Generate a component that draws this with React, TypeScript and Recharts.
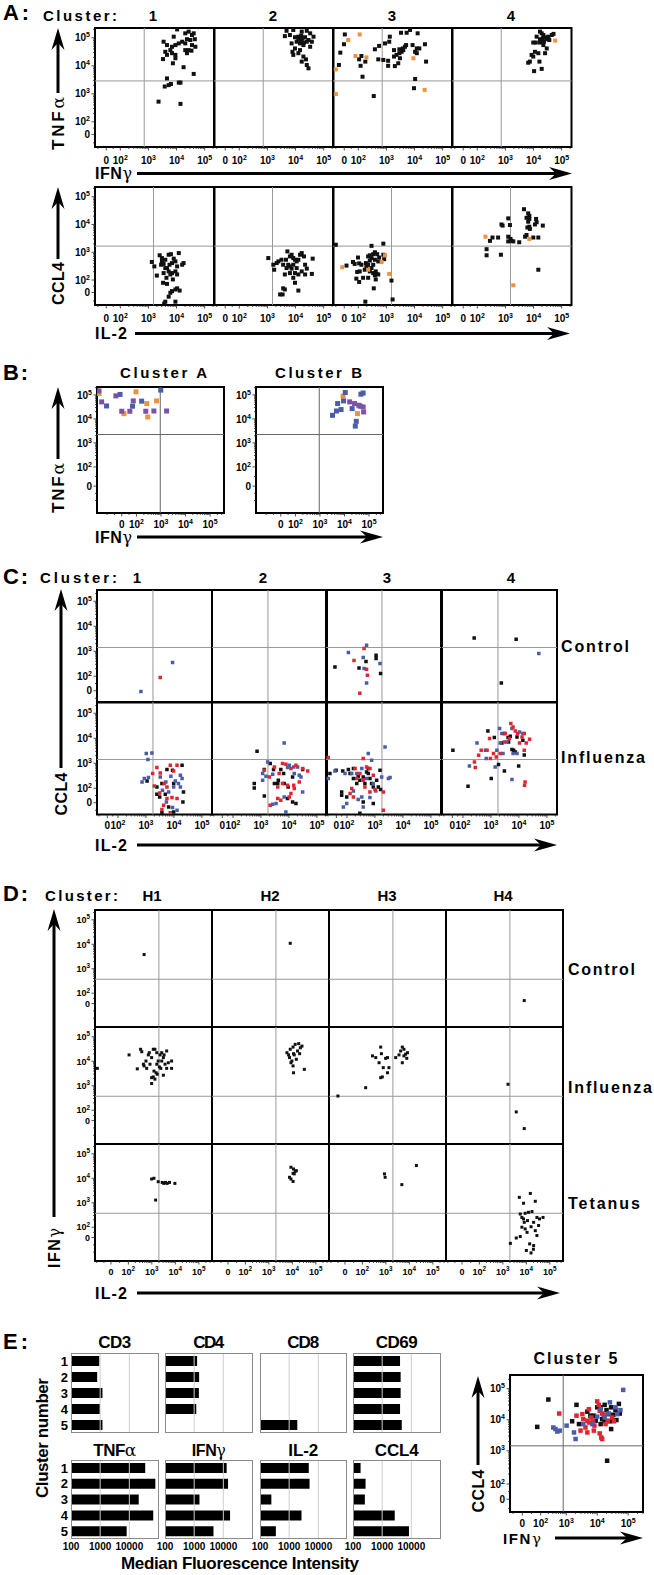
import React from 'react'
import { ScatterChart, Scatter, XAxis, YAxis, ReferenceLine, ReferenceArea, BarChart, Bar } from 'recharts'

type Pt = [number, number]

// values are in display decades of the flow plots (biexponential axes)

// A: TNFa vs IFNg
const A_TOP_1: Pt[] = [[4.02,5.30],[4.31,5.16],[4.55,5.10],[4.43,5.22],[4.61,5.16],[3.90,5.04],[3.54,4.86],[3.66,4.74],[3.84,4.68],[3.96,4.74],[4.31,4.80],[4.49,4.92],[4.65,4.95],[4.20,4.86],[4.08,4.80],[4.55,4.74],[3.60,4.50],[3.78,4.56],[4.31,4.56],[4.37,4.45],[4.67,4.68],[3.84,4.45],[3.96,4.39],[3.66,4.39],[3.52,4.24],[3.96,4.27],[3.87,4.09],[4.25,3.95],[4.61,3.71],[3.66,3.55],[3.72,3.31],[3.80,3.35],[3.58,3.26],[4.14,3.40],[4.08,3.40],[3.36,2.72],[4.14,2.64],[4.43,4.56],[4.53,4.54],[4.37,4.95]]
const A_TOP_2: Pt[] = [[3.68,5.25],[3.92,5.28],[4.22,5.22],[4.40,5.25],[3.62,5.06],[3.80,5.10],[4.10,5.04],[4.22,4.95],[4.34,5.02],[4.46,4.92],[4.58,4.86],[4.04,4.86],[3.86,4.80],[4.16,4.80],[4.28,4.74],[4.52,4.68],[3.98,4.62],[4.16,4.56],[3.89,4.50],[4.10,4.45],[3.92,4.39],[4.28,4.33],[4.37,4.23],[4.22,4.15],[4.40,4.03],[4.46,3.91],[4.30,4.83],[4.40,4.86],[4.10,4.95],[3.98,5.02],[4.52,5.16],[4.64,5.04],[4.15,5.00],[4.20,5.08],[4.25,5.00],[4.18,4.90]]
const A_TOP_3: Pt[] = [[1.52,5.12],[1.49,4.77],[1.36,4.47],[1.31,4.03],[2.15,3.61],[2.08,4.00],[2.03,4.23],[2.11,4.35],[2.25,4.15],[2.55,2.92],[2.59,4.59],[2.74,4.71],[2.95,4.80],[3.10,4.86],[3.12,5.04],[3.52,5.18],[3.72,5.18],[3.84,5.28],[4.11,5.16],[2.71,4.23],[2.89,4.21],[3.06,4.18],[3.06,4.00],[3.30,3.99],[3.27,4.33],[3.27,4.56],[3.46,4.59],[3.54,4.50],[3.58,4.62],[3.70,4.74],[3.42,4.09],[3.48,4.27],[3.46,4.45],[3.60,4.56],[3.93,4.74],[4.08,4.62],[4.17,4.62],[4.02,4.50],[4.08,4.45],[4.37,4.77],[4.41,4.15],[4.02,3.53],[3.98,3.20],[3.66,4.68],[3.36,4.39]]
const A_TOP_3_OR: Pt[] = [[1.20,3.87],[1.20,2.99],[1.64,4.92],[2.05,5.12],[1.90,4.35],[2.29,4.30],[3.96,4.27],[4.36,3.14]]
const A_TOP_4: Pt[] = [[4.23,5.22],[4.29,5.16],[4.35,5.10],[4.41,5.02],[4.47,4.95],[4.33,4.98],[4.23,4.95],[4.53,5.04],[4.65,5.10],[4.71,5.14],[4.11,5.04],[3.99,4.83],[4.08,4.83],[4.23,4.83],[4.37,4.86],[4.56,4.92],[4.35,4.74],[4.47,4.62],[4.41,4.45],[4.05,4.50],[3.93,4.39],[4.17,4.45],[3.99,4.33],[3.87,4.15],[3.81,4.11],[4.21,4.15],[4.29,3.89],[4.02,3.81]]
const A_TOP_4_OR: Pt[] = [[4.77,4.90]]

// A: CCL4 vs IL-2
const A_BOT_1: Pt[] = [[3.12,2.65],[3.21,2.49],[3.40,2.89],[3.48,2.79],[3.60,2.73],[3.72,2.91],[3.80,2.93],[3.90,2.77],[3.84,2.61],[3.75,2.55],[3.66,2.43],[3.54,2.58],[3.45,2.55],[3.30,2.16],[3.54,2.25],[3.72,2.31],[3.84,2.25],[3.96,2.31],[4.02,2.49],[4.20,2.55],[4.25,2.61],[4.08,2.97],[3.96,2.67],[3.60,2.43],[3.52,1.90],[3.66,1.86],[3.64,2.08],[3.84,1.60],[3.96,1.66],[4.02,1.70],[4.11,1.62],[3.72,1.40],[3.60,1.22],[3.56,1.15],[3.96,1.22],[3.78,1.54],[3.87,2.02],[3.78,2.20],[3.48,2.67],[4.02,2.20]]
const A_BOT_2: Pt[] = [[3.03,2.79],[3.21,2.55],[3.24,2.37],[3.33,2.61],[3.39,2.67],[3.50,2.73],[3.56,2.55],[3.66,2.73],[3.71,3.03],[3.80,2.85],[3.86,2.91],[3.92,2.79],[3.98,2.73],[4.04,2.67],[4.10,2.73],[4.16,2.91],[4.22,2.97],[4.30,2.85],[4.61,2.77],[3.92,2.55],[4.04,2.43],[3.80,2.49],[3.68,2.43],[3.62,2.20],[3.80,2.25],[3.98,2.25],[3.92,2.08],[3.98,1.90],[4.10,2.20],[4.22,2.31],[4.34,2.20],[4.58,2.22],[3.56,1.70],[3.62,1.66],[3.45,1.48],[3.54,1.48],[4.10,1.62],[3.74,2.55],[3.86,2.41],[4.34,2.55],[4.40,2.41]]
const A_BOT_3: Pt[] = [[1.20,3.27],[1.58,2.52],[1.81,2.65],[1.87,2.58],[1.99,2.81],[2.03,2.60],[1.96,2.29],[2.05,2.31],[1.93,2.05],[2.03,1.93],[2.17,2.08],[2.23,2.37],[2.29,2.43],[2.27,2.61],[2.35,2.55],[2.35,2.85],[2.41,2.89],[2.47,2.79],[2.53,2.93],[2.59,3.00],[2.67,2.93],[2.47,3.23],[2.59,2.73],[2.71,2.67],[2.74,2.81],[2.89,3.31],[2.92,2.75],[2.89,2.91],[2.41,2.31],[2.53,2.25],[2.59,2.17],[2.65,2.22],[2.62,2.02],[2.71,2.20],[2.55,1.70],[2.35,2.08],[2.29,2.55],[2.53,2.55],[2.47,2.43],[2.11,2.55],[3.18,1.98],[3.22,1.30],[2.25,1.22],[2.62,2.31],[2.41,2.70]]
const A_BOT_3_OR: Pt[] = [[1.43,2.46],[2.83,2.65],[2.95,2.89],[3.10,2.22],[2.35,2.37]]
const A_BOT_4: Pt[] = [[3.66,4.55],[3.81,4.40],[3.85,4.31],[3.75,4.24],[3.85,4.20],[3.81,4.10],[4.09,4.20],[4.11,4.08],[4.33,3.96],[4.05,4.00],[3.85,3.92],[3.78,3.89],[3.87,3.84],[3.75,3.62],[3.99,3.53],[4.17,3.53],[3.70,3.56],[3.10,4.22],[3.16,3.98],[2.86,4.00],[2.90,3.96],[3.10,3.56],[3.18,3.48],[3.22,3.41],[3.28,3.39],[3.10,3.39],[3.49,3.36],[2.74,3.53],[2.54,3.53],[2.45,3.41],[2.33,3.11],[2.33,2.89],[2.84,2.91],[4.17,2.37]]
const A_BOT_4_OR: Pt[] = [[2.29,3.56],[3.85,3.48],[3.28,1.81]]

// B: TNFa vs IFNg, donors in three colours
const B_A_PURPLE: Pt[] = [[0.47,5.17],[0.58,4.71],[1.16,4.96],[1.40,4.32],[1.73,4.32],[1.87,4.75],[2.38,4.32],[2.71,4.33],[3.23,4.33]]
const B_A_BLUE: Pt[] = [[0.78,4.54],[1.33,5.02],[1.84,4.53],[2.21,4.74],[2.99,5.20]]
const B_A_ORANGE: Pt[] = [[0.47,5.06],[1.49,4.22],[1.98,5.13],[2.42,4.64],[2.46,4.08],[2.82,4.75]]
const B_B_BLUE: Pt[] = [[3.51,4.15],[3.72,4.64],[3.67,4.33],[3.86,4.39],[4.03,5.10],[3.96,4.75],[4.31,4.43],[4.48,3.90],[4.44,3.70],[4.64,4.53],[4.67,5.03],[4.76,5.08]]
const B_B_PURPLE: Pt[] = [[4.21,4.71],[4.41,4.64],[4.58,4.57],[4.76,4.50],[4.78,4.29]]
const B_B_ORANGE: Pt[] = [[3.94,4.95],[4.53,4.22]]

// C: CCL4 vs IL-2, control row
const C_CTRL_1_BLUE: Pt[] = [[2.82,1.39],[3.95,2.55]]
const C_CTRL_1_RED: Pt[] = [[3.51,1.95]]
const C_CTRL_3_BLACK: Pt[] = [[2.68,2.59],[3.04,2.84],[3.04,2.71],[1.57,2.37],[2.43,2.33],[3.20,2.11]]
const C_CTRL_3_BLUE: Pt[] = [[2.70,3.24],[2.05,2.95],[2.58,2.75],[2.61,2.31],[3.18,2.51],[2.70,1.73]]
const C_CTRL_3_RED: Pt[] = [[2.61,3.11],[2.25,2.63],[2.70,2.28],[2.73,2.04],[2.46,1.32]]
const C_CTRL_4_BLACK: Pt[] = [[2.40,3.53],[3.90,3.48],[3.37,1.73]]
const C_CTRL_4_BLUE: Pt[] = [[4.71,2.91]]

// C: influenza row
const C_FLU_1_BLACK: Pt[] = [[3.04,2.29],[3.75,2.75],[3.95,2.72],[4.29,2.92],[3.39,2.05],[3.57,2.19],[3.99,2.19],[3.39,1.76],[3.49,1.65],[3.69,1.76],[4.34,1.85],[4.32,1.45],[3.81,1.25],[3.57,1.02],[3.99,1.05]]
const C_FLU_1_BLUE: Pt[] = [[3.01,3.39],[3.21,3.41],[3.07,3.15],[2.86,2.25],[2.94,2.39],[3.09,2.43],[3.51,2.45],[3.71,2.25],[3.89,2.48],[4.05,2.29],[4.23,2.52],[4.16,2.19],[3.99,2.05],[3.59,1.92],[3.81,1.85],[3.73,1.45],[3.95,1.23],[4.11,1.12],[4.29,2.39],[4.23,2.05]]
const C_FLU_1_RED: Pt[] = [[3.24,2.59],[3.39,2.83],[3.51,2.61],[3.87,2.92],[4.11,2.92],[3.65,2.19],[3.75,2.05],[3.30,2.09],[3.49,1.81],[3.75,1.59],[3.93,1.63],[4.11,1.59],[3.63,1.32],[3.87,1.02],[3.57,1.15],[3.99,2.69]]
const C_FLU_2_BLACK: Pt[] = [[2.86,3.48],[2.76,2.19],[2.76,2.01],[3.12,1.69],[3.33,2.99],[3.45,2.75],[3.12,2.75],[3.71,2.75],[3.81,2.59],[3.62,2.32],[3.48,2.19],[3.83,2.19],[4.13,2.45],[3.97,2.05],[4.49,2.75],[3.95,1.59],[4.13,1.45],[4.25,1.39],[3.60,2.19]]
const C_FLU_2_BLUE: Pt[] = [[3.83,3.81],[3.24,3.05],[3.06,2.59],[3.18,2.48],[3.42,2.56],[3.95,2.83],[4.01,2.92],[4.17,2.85],[4.19,2.59],[4.31,2.85],[4.37,2.52],[4.43,2.45],[4.49,1.85],[3.83,1.65],[3.54,1.39],[3.42,1.36],[3.89,1.05],[3.06,2.32]]
const C_FLU_2_RED: Pt[] = [[3.12,2.72],[3.30,2.45],[3.48,2.85],[3.65,2.59],[3.77,2.99],[3.89,2.96],[4.07,2.79],[4.25,2.92],[4.49,2.79],[4.67,2.69],[3.60,2.05],[3.77,2.19],[3.95,2.12],[4.17,2.12],[4.37,2.25],[3.60,1.59],[3.71,1.52],[4.01,1.65],[3.33,1.32],[4.07,1.79],[4.19,1.99]]
const C_FLU_3_BLACK: Pt[] = [[1.39,2.59],[1.61,2.72],[1.85,2.69],[2.05,2.75],[2.11,2.59],[2.23,2.39],[2.40,2.48],[2.46,2.32],[2.58,2.45],[2.64,2.19],[2.76,2.59],[2.82,2.39],[2.88,2.19],[2.94,2.05],[3.06,2.32],[3.12,2.05],[3.18,2.72],[2.58,1.45],[2.46,1.00],[2.94,1.39],[3.20,1.95],[1.81,1.85],[1.81,1.72],[1.99,1.65],[2.70,2.65],[2.35,2.19],[2.76,2.79],[2.23,2.79]]
const C_FLU_3_BLUE: Pt[] = [[1.33,2.39],[1.57,2.69],[1.93,2.59],[2.17,2.59],[2.35,2.59],[2.53,2.79],[2.76,3.39],[2.88,3.12],[2.70,2.39],[2.94,2.19],[3.03,1.89],[3.48,2.39],[3.54,2.43],[3.24,2.45],[2.40,1.55],[2.53,1.65],[2.23,1.89],[1.87,1.25],[1.99,1.39],[2.58,1.25],[3.36,3.65],[2.82,1.63]]
const C_FLU_3_RED: Pt[] = [[1.33,3.23],[2.29,2.79],[2.58,3.19],[2.82,2.79],[2.94,2.52],[2.35,2.39],[2.17,1.99],[2.11,1.79],[2.58,2.32],[2.64,2.05],[2.23,1.65],[2.82,1.85],[3.00,1.95],[3.30,1.85],[3.30,1.12],[2.70,2.85],[2.46,2.59]]
const C_FLU_4_BLACK: Pt[] = [[1.64,3.52],[2.18,2.08],[2.89,4.29],[3.01,2.39],[3.12,4.03],[3.27,2.95],[3.48,4.19],[3.48,2.69],[3.61,4.03],[3.63,3.85],[3.69,4.08],[3.75,3.55],[3.81,3.52],[3.87,3.45],[3.99,2.89],[4.14,3.92],[4.19,3.33],[3.39,3.81],[3.93,4.05]]
const C_FLU_4_BLUE: Pt[] = [[2.23,2.89],[2.50,3.81],[2.80,3.52],[2.83,3.19],[3.15,2.85],[3.21,3.52],[3.31,4.39],[3.39,4.19],[3.43,3.39],[3.57,3.85],[3.75,4.39],[3.79,3.39],[3.93,3.39],[4.02,4.25],[4.14,4.19],[3.75,2.35],[3.33,3.81]]
const C_FLU_4_RED: Pt[] = [[2.41,3.05],[2.44,2.83],[2.56,3.32],[2.65,3.52],[2.86,3.52],[2.95,3.99],[2.98,3.19],[3.09,3.39],[3.19,3.25],[3.48,3.85],[3.51,4.19],[3.66,3.99],[3.71,4.59],[3.79,4.45],[3.87,4.29],[3.95,4.19],[4.02,3.81],[4.11,4.05],[4.19,4.19],[4.19,3.52],[4.26,3.81],[4.38,3.96],[4.22,2.25],[4.20,2.12],[3.33,3.39]]

// D: IFNg vs IL-2
const D_CTRL_1: Pt[] = [[2.67,3.58]]
const D_CTRL_2: Pt[] = [[3.91,4.04]]
const D_CTRL_4: Pt[] = [[3.91,1.70]]
const D_FLU_1: Pt[] = [[0.68,3.71],[2.03,4.26],[2.38,3.69],[2.52,4.49],[2.57,4.39],[2.67,3.81],[2.75,4.01],[2.78,3.71],[2.85,4.26],[2.89,4.35],[2.99,4.15],[3.06,4.49],[3.13,4.49],[3.21,4.35],[3.27,4.01],[3.35,4.26],[3.42,4.35],[3.49,4.15],[3.63,4.42],[3.56,3.88],[3.70,3.94],[3.84,4.01],[3.84,3.71],[3.21,3.88],[3.32,3.77],[3.42,4.01],[3.09,3.60],[3.18,3.53],[3.06,3.36],[2.99,3.33],[3.13,3.27],[2.99,3.09],[3.49,3.43],[3.23,3.47],[3.38,3.71],[3.63,3.71],[2.92,3.88],[2.64,3.88],[3.52,4.26]]
const D_FLU_2: Pt[] = [[3.77,4.35],[3.91,4.49],[4.03,4.58],[4.12,4.69],[4.27,4.72],[4.41,4.62],[4.22,4.42],[4.05,4.31],[3.88,4.15],[3.98,4.01],[4.08,4.26],[4.31,4.31],[4.17,4.08],[4.03,3.81],[4.05,3.53],[4.51,3.67],[3.84,4.26],[4.34,4.55],[3.94,3.94]]
const D_FLU_3: Pt[] = [[0.96,2.58],[2.14,2.92],[2.43,4.22],[2.57,4.15],[2.71,3.94],[2.78,4.58],[2.81,4.31],[2.89,3.74],[2.99,4.12],[3.07,4.15],[3.13,3.74],[3.07,3.53],[2.78,3.33],[2.85,3.36],[3.42,4.15],[3.56,4.26],[3.63,4.42],[3.70,4.58],[3.77,4.49],[3.84,4.29],[3.89,4.12],[3.70,3.94],[3.77,4.22],[3.92,4.35]]
const D_FLU_4: Pt[] = [[3.22,3.06],[3.57,1.93],[3.91,1.25]]
const D_TET_1: Pt[] = [[2.99,3.97],[3.09,4.00],[3.27,3.86],[3.44,3.83],[3.58,3.83],[3.65,3.79],[3.75,3.83],[3.98,3.79],[3.16,3.11],[3.51,3.79]]
const D_TET_2: Pt[] = [[3.94,4.45],[4.05,4.38],[4.12,4.28],[4.03,4.20],[3.88,4.04],[3.94,3.97],[4.03,3.87],[4.08,4.18],[4.17,4.31]]
const D_TET_3: Pt[] = [[2.94,4.18],[2.97,4.04],[3.68,3.74],[4.30,4.52]]
const D_TET_4: Pt[] = [[3.70,3.22],[4.17,3.38],[4.38,3.06],[3.88,2.98],[3.74,2.54],[3.81,2.40],[3.95,2.57],[4.09,2.61],[4.24,2.64],[4.45,2.40],[4.56,2.34],[4.71,2.40],[3.91,2.20],[4.05,2.27],[4.31,2.20],[3.81,2.00],[3.95,1.93],[4.20,2.02],[4.38,1.86],[4.45,1.66],[3.74,1.62],[3.57,1.56],[3.32,1.34],[4.14,1.32],[4.31,1.25],[4.03,1.79],[3.88,2.34],[4.52,2.07],[4.00,1.05],[4.20,0.95],[4.30,1.10]]

// E: cluster 5, CCL4 vs IFNg
const E5_BLACK: Pt[] = [[2.06,3.77],[2.42,4.65],[3.33,4.48],[3.19,3.95],[3.41,3.86],[3.68,4.26],[3.89,4.13],[4.00,4.40],[4.11,4.40],[4.16,4.02],[4.24,4.48],[4.30,4.31],[4.37,4.18],[4.41,3.95],[4.45,4.40],[4.52,4.16],[4.59,4.31],[4.62,3.99],[4.70,4.51],[4.73,4.20],[4.45,3.70],[4.32,2.68],[4.11,3.86],[4.24,3.95],[3.95,3.97],[3.78,4.13]]
const E5_BLUE: Pt[] = [[2.58,3.75],[2.65,3.70],[2.71,3.62],[2.79,3.65],[3.01,3.81],[3.25,3.59],[3.30,3.38],[3.55,3.86],[3.84,3.86],[4.11,4.34],[4.24,4.07],[4.41,4.56],[4.59,4.40],[4.65,4.18],[4.75,4.31],[4.84,4.96],[4.37,4.20],[4.00,4.10]]
const E5_RED: Pt[] = [[2.77,4.20],[3.33,4.13],[3.52,4.18],[3.55,4.02],[3.62,3.75],[3.68,3.97],[3.73,4.34],[3.81,4.07],[3.87,3.95],[3.91,3.81],[4.00,4.59],[4.05,4.48],[4.08,4.29],[4.16,4.20],[4.21,4.16],[4.27,3.86],[4.34,3.97],[4.48,4.07],[4.08,3.56],[4.13,3.43],[4.16,3.38],[3.46,3.65],[3.68,3.59],[3.89,3.65],[3.73,3.91],[4.54,3.95]]

// E: median fluorescence intensity per cluster
const CLUSTERS = ['1', '2', '3', '4', '5']
const MFI_CD3 = [930, 790, 1200, 980, 1200]
const MFI_CD4 = [1260, 1480, 1450, 1180, null]
const MFI_CD8 = [null, null, null, null, 1900]
const MFI_CD69 = [4100, 4300, 4300, 4100, 4700]
const MFI_TNFA = [35000, 78000, 21000, 66000, 8100]
const MFI_IFNG = [13000, 14500, 1520, 17000, 4600]
const MFI_IL2 = [4700, 5000, 245, 2650, 350]
const MFI_CCL4 = [182, 270, 255, 2700, 8300]
const MFI_TICKS = [100, 1000, 10000]

const FONT = '"Liberation Sans", Arial, Helvetica, sans-serif'
const BLACK = '#111111'
const ORANGE = '#F0913C'
const BLUE = '#4A5DAA'
const PURPLE = '#7B52A6'
const RED = '#E2262F'

interface AxisDef { domain: [number, number]; zero: number; two?: number }
interface Series { pts: Pt[]; color: string }

function axisTicks(a: AxisDef) {
  const two = a.two ?? 2
  const majors: [number, string][] = [[a.zero, '0'], [two, '2'], [3, '3'], [4, '4'], [5, '5']]
  const minors: number[] = []
  for (let m = 2; m < 10; m++) {
    const f = Math.log10(m)
    minors.push(two + (3 - two) * f, 3 + f, 4 + f, 5 + f)
  }
  minors.push(a.zero - 0.3, a.zero - 0.6, (a.zero + two) / 2)
  const inside = (v: number) => v >= a.domain[0] && v <= a.domain[1]
  const mj = majors.filter(m => inside(m[0]))
  const mn = minors.filter(inside)
  return { majors: mj, all: [...mj.map(m => m[0]), ...mn].sort((p, q) => p - q) }
}

function tickText(t: string, x: number, y: number, fs: number, anchor: string) {
  return (
    <text x={x} y={y} textAnchor={anchor} fontSize={fs} fontWeight="bold" fontFamily={FONT} fill="#000">
      {t === '0' ? '0' : '10'}
      {t !== '0' && <tspan dy={-fs * 0.4} fontSize={fs * 0.7}>{t}</tspan>}
    </text>
  )
}

const square = (color: string, s: number) => (p: any) => (
  <rect x={p.cx - s / 2} y={p.cy - s / 2} width={s} height={s} fill={color} />
)

interface FlowPlotProps {
  left: number; top: number; w: number; h: number
  xa: AxisDef; ya: AxisDef; gate: [number, number]
  series: Series[]
  showX?: boolean; showY?: boolean
  size?: number; fs?: number; xOff?: number; gateColor?: string
}

function FlowPlot({ left, top, w, h, xa, ya, gate, series, showX = true, showY = true, size = 4, fs = 10, xOff = 16, gateColor = '#999' }: FlowPlotProps) {
  const xt = axisTicks(xa)
  const yt = axisTicks(ya)
  const PL = 34, PT = 4, PR = 4, PB = 24
  const find = (list: [number, string][], v: number) => list.find(m => Math.abs(m[0] - v) < 1e-9)
  return (
    <div style={{ position: 'absolute', left: left - PL, top: top - PT }}>
      <ScatterChart width={w + PL + PR} height={h + PT + PB}
        margin={{ top: PT, right: PR, bottom: showX ? 0 : PB, left: showY ? 0 : PL }}>
        <XAxis type="number" dataKey="x" domain={xa.domain} allowDataOverflow ticks={xt.all} interval={0}
          hide={!showX} height={PB} axisLine={false} tickLine={false} tickSize={0} tickMargin={0}
          tick={(p: any) => {
            const m = find(xt.majors, p.payload.value)
            return (
              <g>
                <line x1={p.x} x2={p.x} y1={p.y} y2={p.y + (m ? 3.5 : 2)} stroke="#222" strokeWidth={0.8} />
                {m && tickText(m[1], p.x, p.y + xOff, fs, 'middle')}
              </g>
            )
          }} />
        <YAxis type="number" dataKey="y" domain={ya.domain} allowDataOverflow ticks={yt.all} interval={0}
          hide={!showY} width={PL} axisLine={false} tickLine={false} tickSize={0} tickMargin={0}
          tick={(p: any) => {
            const m = find(yt.majors, p.payload.value)
            return (
              <g>
                <line x1={p.x - (m ? 3.5 : 2)} x2={p.x} y1={p.y} y2={p.y} stroke="#222" strokeWidth={0.8} />
                {m && tickText(m[1], p.x - 5, p.y + fs * 0.36, fs, 'end')}
              </g>
            )
          }} />
        <ReferenceLine x={gate[0]} stroke={gateColor} strokeWidth={1} />
        <ReferenceLine y={gate[1]} stroke={gateColor} strokeWidth={1} />
        {series.map((s, i) => (
          <Scatter key={i} data={s.pts.map(([x, y]) => ({ x, y }))} shape={square(s.color, size)} isAnimationActive={false} />
        ))}
        <ReferenceArea x1={xa.domain[0]} x2={xa.domain[1]} y1={ya.domain[0]} y2={ya.domain[1]}
          fill="none" fillOpacity={0} stroke="#000" strokeWidth={2} ifOverflow="visible" />
      </ScatterChart>
    </div>
  )
}

interface BarsProps { left: number; top: number; w: number; h: number; values: (number | null)[]; showX?: boolean; showY?: boolean }

function MfiBars({ left, top, w, h, values, showX = false, showY = false }: BarsProps) {
  const data = CLUSTERS.map((c, i) => ({ c, v: values[i] }))
  const PL = 22, PT = 2, PR = 2, PB = 18
  return (
    <>
      <div style={{ position: 'absolute', left: left - PL, top: top - PT }}>
        <BarChart layout="vertical" width={w + PL + PR} height={h + PT + PB} data={data}
          margin={{ top: PT, right: PR, bottom: showX ? 0 : PB, left: showY ? 0 : PL }}>
          <XAxis type="number" scale="log" domain={[100, 100000]} allowDataOverflow ticks={MFI_TICKS} interval={0}
            hide={!showX} height={PB} axisLine={false} tickLine={false} tickSize={0} tickMargin={4}
            tick={{ fontSize: 10, fontWeight: 'bold', fill: '#000', fontFamily: FONT }} />
          <YAxis type="category" dataKey="c" width={PL} hide={!showY} axisLine={false} tickLine={false} interval={0}
            tickSize={0} tickMargin={3} tick={{ fontSize: 13, fontWeight: 'bold', fill: '#000', fontFamily: FONT }} />
          <ReferenceLine x={1000} stroke="#cfcfcf" />
          <ReferenceLine x={10000} stroke="#cfcfcf" />
          <Bar dataKey="v" fill="#000" barSize={10} isAnimationActive={false} />
        </BarChart>
      </div>
      <div style={{ position: 'absolute', left, top, width: w, height: h, border: '1px solid #8a8a8a', boxSizing: 'border-box', pointerEvents: 'none' }} />
    </>
  )
}

function ArrowH({ x1, x2, y }: { x1: number; x2: number; y: number }) {
  return (
    <g>
      <line x1={x1} y1={y} x2={x2 - 14} y2={y} stroke="#000" strokeWidth={3} />
      <path d={`M${x2} ${y} L${x2 - 23} ${y - 6.5} L${x2 - 16} ${y} L${x2 - 23} ${y + 6.5} Z`} fill="#000" />
    </g>
  )
}

function ArrowUp({ x, y1, y2 }: { x: number; y1: number; y2: number }) {
  return (
    <g>
      <line x1={x} y1={y1} x2={x} y2={y2 + 14} stroke="#000" strokeWidth={3} />
      <path d={`M${x} ${y2} L${x - 6.5} ${y2 + 22} L${x} ${y2 + 15} L${x + 6.5} ${y2 + 22} Z`} fill="#000" />
    </g>
  )
}

function Txt({ x, y, s, size = 14, len, anchor = 'start', rot = false, greek }: { x: number; y: number; s: string; size?: number; len?: number; anchor?: string; rot?: boolean; greek?: string }) {
  const common = {
    fontFamily: FONT, fontWeight: 'bold' as const, fontSize: size, fill: '#000',
    textLength: len, lengthAdjust: 'spacing' as const,
  }
  const g = greek && <tspan fontWeight="normal" fontFamily='"DejaVu Serif", serif'>{greek}</tspan>
  if (rot) {
    return (
      <text x={x} y={y} dy={size * 0.36} transform={`rotate(-90 ${x} ${y})`} textAnchor="middle" {...common}>
        {s}{g}
      </text>
    )
  }
  return (
    <text x={x} y={y} textAnchor={anchor} {...common}>
      {s}{g}
    </text>
  )
}

function Overlay() {
  return (
    <svg width={654} height={1575} style={{ position: 'absolute', left: 0, top: 0 }}>
      {/* A */}
      <Txt x={3} y={20} s="A:" size={22} len={26} />
      <Txt x={43} y={20.5} s="Cluster:" size={15} len={74} />
      {[['1', 153], ['2', 273], ['3', 392], ['4', 511]].map(([t, x]) => (
        <Txt key={t as string} x={x as number} y={20.5} s={t as string} size={15} anchor="middle" />
      ))}
      <Txt x={58} y={123.5} s="TNF" greek="α" size={17} len={53} rot />
      <ArrowUp x={58} y1={93} y2={28} />
      <Txt x={95} y={179} s="IFN" greek="γ" size={16} len={37} />
      <ArrowH x1={137} x2={572} y={173.5} />
      <Txt x={58} y={283.5} s="CCL4" size={16} len={43} rot />
      <ArrowUp x={58} y1={259} y2={187} />
      <Txt x={95} y={339} s="IL-2" size={16} len={32} />
      <ArrowH x1={135} x2={570} y={333.5} />

      {/* B */}
      <Txt x={3} y={380} s="B:" size={22} len={25} />
      <Txt x={163.5} y={378} s="Cluster A" size={15} len={87} anchor="middle" />
      <Txt x={318.5} y={378} s="Cluster B" size={15} len={87} anchor="middle" />
      <Txt x={58} y={488} s="TNF" greek="α" size={17} len={50} rot />
      <ArrowUp x={58} y1={459} y2={387} />
      <Txt x={95} y={542.5} s="IFN" greek="γ" size={16} len={37} />
      <ArrowH x1={137} x2={383} y={537} />

      {/* C */}
      <Txt x={3} y={583.5} s="C:" size={22} len={25} />
      <Txt x={40} y={583} s="Cluster:" size={15} len={77} />
      {[['1', 137], ['2', 263], ['3', 387], ['4', 511]].map(([t, x]) => (
        <Txt key={'c' + t} x={x as number} y={583} s={t as string} size={15} anchor="middle" />
      ))}
      <Txt x={561} y={652} s="Control" size={16} len={68} />
      <Txt x={561} y={763} s="Influenza" size={16} len={84} />
      <Txt x={61} y={794} s="CCL4" size={16} len={43} rot />
      <ArrowUp x={61} y1={768} y2={589} />
      <Txt x={95} y={850.5} s="IL-2" size={16} len={32} />
      <ArrowH x1={137} x2={557} y={845} />

      {/* D */}
      <Txt x={3} y={900.5} s="D:" size={22} len={25} />
      <Txt x={45} y={900.5} s="Cluster:" size={15} len={73} />
      {[['H1', 152], ['H2', 270], ['H3', 387], ['H4', 503]].map(([t, x]) => (
        <Txt key={t as string} x={x as number} y={900.5} s={t as string} size={15} anchor="middle" len={19} />
      ))}
      <Txt x={568} y={974.5} s="Control" size={16} len={67} />
      <Txt x={568} y={1092.5} s="Influenza" size={16} len={84} />
      <Txt x={568} y={1208.5} s="Tetanus" size={16} len={72} />
      <Txt x={54} y={1248} s="IFN" greek="γ" size={16} len={40} rot />
      <ArrowUp x={54} y1={1217} y2={909} />
      <Txt x={95} y={1298.5} s="IL-2" size={16} len={32} />
      <ArrowH x1={137} x2={560} y={1293} />

      {/* E */}
      <Txt x={3} y={1349} s="E:" size={22} len={25} />
      <Txt x={114.8} y={1348} s="CD3" size={17} len={33} anchor="middle" />
      <Txt x={208.8} y={1348} s="CD4" size={17} len={31} anchor="middle" />
      <Txt x={303.3} y={1348} s="CD8" size={17} len={32} anchor="middle" />
      <Txt x={396.8} y={1348} s="CD69" size={17} len={42} anchor="middle" />
      <Txt x={114.8} y={1455.5} s="TNF" greek="α" size={17} len={43} anchor="middle" />
      <Txt x={208.8} y={1455.5} s="IFN" greek="γ" size={16} len={34} anchor="middle" />
      <Txt x={303.3} y={1455.5} s="IL-2" size={17} len={30} anchor="middle" />
      <Txt x={396.8} y={1455.5} s="CCL4" size={17} len={44} anchor="middle" />
      <Txt x={42} y={1438} s="Cluster number" size={17} len={120} rot />
      <Txt x={240} y={1569} s="Median Fluorescence Intensity" size={17} len={238} anchor="middle" />
      <Txt x={575.5} y={1364} s="Cluster 5" size={16} len={84} anchor="middle" />
      <Txt x={478} y={1491} s="CCL4" size={16} len={43} rot />
      <ArrowUp x={478} y1={1465} y2={1376} />
      <Txt x={503} y={1544} s="IFN" greek="γ" size={15} len={38} />
      <ArrowH x1={555} x2={643} y={1538} />
    </svg>
  )
}

// axis definitions per panel (display decades)
const AX_A: AxisDef = { domain: [1.1, 5.35], zero: 1.5 }
const AY_A: AxisDef = { domain: [1.1, 5.35], zero: 1.55 }
const AX_B: AxisDef = { domain: [0.39, 5.57], zero: 1.4 }
const AY_B: AxisDef = { domain: [0.08, 5.33], zero: 1.2 }
const AX_C: AxisDef = { domain: [1.25, 5.36], zero: 1.62 }
const AY_C: AxisDef = { domain: [0.95, 5.45], zero: 1.42 }
const AX_D: AxisDef = { domain: [0.58, 5.56], zero: 1.26 }
const AY_D: AxisDef = { domain: [0.62, 5.4], zero: 1.58 }
const AX_E: AxisDef = { domain: [1.18, 5.48], zero: 1.58, two: 2.17 }
const AY_E: AxisDef = { domain: [1.03, 5.44], zero: 1.44, two: 1.93 }

const A_LEFTS = [95, 214, 333, 452]
const C_LEFTS = [97, 211.5, 326, 441.5]
const D_LEFTS = [95, 212, 328.5, 445.5]
const BAR_LEFTS = [71, 165, 259.5, 353]

export default function App() {
  const aTop: Series[][] = [
    [{ pts: A_TOP_1, color: BLACK }],
    [{ pts: A_TOP_2, color: BLACK }],
    [{ pts: A_TOP_3, color: BLACK }, { pts: A_TOP_3_OR, color: ORANGE }],
    [{ pts: A_TOP_4, color: BLACK }, { pts: A_TOP_4_OR, color: ORANGE }],
  ]
  const aBot: Series[][] = [
    [{ pts: A_BOT_1, color: BLACK }],
    [{ pts: A_BOT_2, color: BLACK }],
    [{ pts: A_BOT_3, color: BLACK }, { pts: A_BOT_3_OR, color: ORANGE }],
    [{ pts: A_BOT_4, color: BLACK }, { pts: A_BOT_4_OR, color: ORANGE }],
  ]
  const cCtrl: Series[][] = [
    [{ pts: C_CTRL_1_BLUE, color: BLUE }, { pts: C_CTRL_1_RED, color: RED }],
    [],
    [{ pts: C_CTRL_3_BLACK, color: BLACK }, { pts: C_CTRL_3_BLUE, color: BLUE }, { pts: C_CTRL_3_RED, color: RED }],
    [{ pts: C_CTRL_4_BLACK, color: BLACK }, { pts: C_CTRL_4_BLUE, color: BLUE }],
  ]
  const cFlu: Series[][] = [
    [{ pts: C_FLU_1_BLACK, color: BLACK }, { pts: C_FLU_1_BLUE, color: BLUE }, { pts: C_FLU_1_RED, color: RED }],
    [{ pts: C_FLU_2_BLACK, color: BLACK }, { pts: C_FLU_2_BLUE, color: BLUE }, { pts: C_FLU_2_RED, color: RED }],
    [{ pts: C_FLU_3_BLACK, color: BLACK }, { pts: C_FLU_3_BLUE, color: BLUE }, { pts: C_FLU_3_RED, color: RED }],
    [{ pts: C_FLU_4_BLACK, color: BLACK }, { pts: C_FLU_4_BLUE, color: BLUE }, { pts: C_FLU_4_RED, color: RED }],
  ]
  const dRows: Pt[][][] = [
    [D_CTRL_1, D_CTRL_2, [], D_CTRL_4],
    [D_FLU_1, D_FLU_2, D_FLU_3, D_FLU_4],
    [D_TET_1, D_TET_2, D_TET_3, D_TET_4],
  ]
  const D_TOPS = [909.5, 1026.5, 1143.5]
  const barTop = [MFI_CD3, MFI_CD4, MFI_CD8, MFI_CD69]
  const barBot = [MFI_TNFA, MFI_IFNG, MFI_IL2, MFI_CCL4]

  return (
    <div style={{ position: 'absolute', left: 0, top: 0, width: 654, height: 1575, background: '#fff', overflow: 'hidden' }}>
      <Overlay />

      {A_LEFTS.map((l, i) => (
        <FlowPlot key={'at' + i} left={l} top={28} w={119.5} h={119} xa={AX_A} ya={AY_A} gate={[2.85, 3.46]}
          series={aTop[i]} showY={i === 0} xOff={17} />
      ))}
      {A_LEFTS.map((l, i) => (
        <FlowPlot key={'ab' + i} left={l} top={187} w={119.5} h={118} xa={AX_A} ya={AY_A} gate={[3.18, 3.22]}
          series={aBot[i]} showY={i === 0} xOff={17} />
      ))}

      <FlowPlot left={97} top={386.7} w={127} h={126} xa={AX_B} ya={AY_B} gate={[2.97, 3.35]} size={5} xOff={15} gateColor="#666"
        series={[{ pts: B_A_ORANGE, color: ORANGE }, { pts: B_A_BLUE, color: BLUE }, { pts: B_A_PURPLE, color: PURPLE }]} />
      <FlowPlot left={255.7} top={386.7} w={127} h={126} xa={AX_B} ya={AY_B} gate={[2.97, 3.35]} size={5} xOff={15} gateColor="#666"
        series={[{ pts: B_B_ORANGE, color: ORANGE }, { pts: B_B_BLUE, color: BLUE }, { pts: B_B_PURPLE, color: PURPLE }]} />

      {C_LEFTS.map((l, i) => (
        <FlowPlot key={'cc' + i} left={l} top={589.5} w={115} h={112.5} xa={AX_C} ya={AY_C} gate={[3.25, 3.15]}
          series={cCtrl[i]} showX={false} showY={i === 0} size={3.5} />
      ))}
      {C_LEFTS.map((l, i) => (
        <FlowPlot key={'cf' + i} left={l} top={702} w={115} h={112.5} xa={AX_C} ya={AY_C} gate={[3.25, 3.15]}
          series={cFlu[i]} showY={i === 0} size={3.5} xOff={14} />
      ))}

      {dRows.map((row, r) => D_LEFTS.map((l, i) => (
        <FlowPlot key={'d' + r + i} left={l} top={D_TOPS[r]} w={117} h={117} xa={AX_D} ya={AY_D} gate={[3.3, 2.57]}
          series={[{ pts: row[i], color: BLACK }]} showX={r === 2} showY={i === 0} size={3} fs={9} xOff={14} />
      )))}

      {BAR_LEFTS.map((l, i) => (
        <MfiBars key={'bt' + i} left={l} top={1352.5} w={87.5} h={80} values={barTop[i]} showY={i === 0} />
      ))}
      {BAR_LEFTS.map((l, i) => (
        <MfiBars key={'bb' + i} left={l} top={1459.5} w={87.5} h={79} values={barBot[i]} showY={i === 0} showX />
      ))}

      <FlowPlot left={509.5} top={1375} w={133} h={137} xa={AX_E} ya={AY_E} gate={[2.9, 3.16]} size={4.5} xOff={15} gateColor="#666"
        series={[{ pts: E5_BLACK, color: BLACK }, { pts: E5_RED, color: RED }, { pts: E5_BLUE, color: BLUE }]} />
    </div>
  )
}
